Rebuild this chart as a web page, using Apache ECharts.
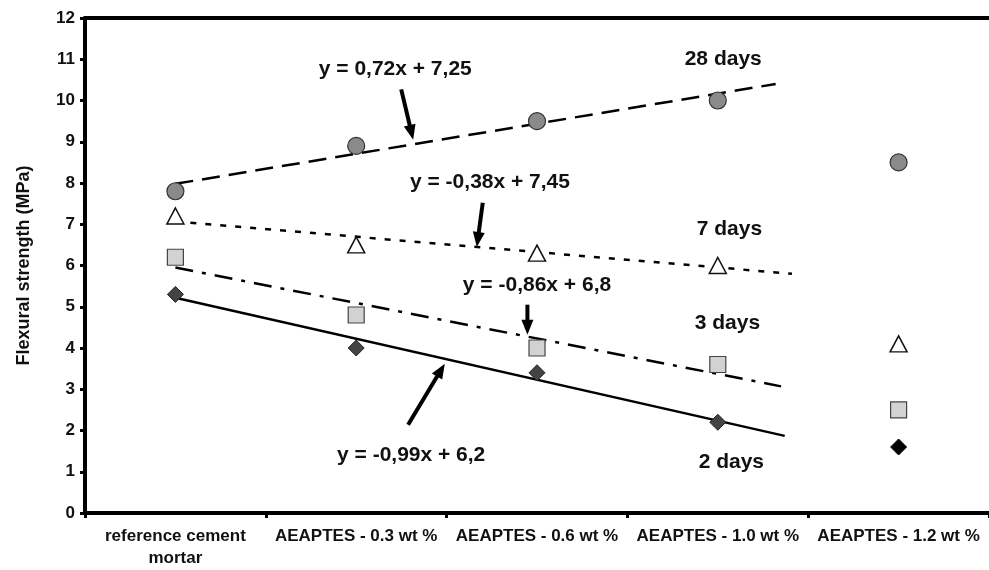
<!DOCTYPE html>
<html><head><meta charset="utf-8">
<script src="https://cdn.jsdelivr.net/npm/echarts@6/dist/echarts.min.js"></script>
<style>html,body{margin:0;padding:0;background:#fff}#c{width:989px;height:570px}</style>
</head><body><div id="c"></div>
<script>
const categories = ['reference cement\nmortar','AEAPTES - 0.3 wt %','AEAPTES - 0.6 wt %','AEAPTES - 1.0 wt %','AEAPTES - 1.2 wt %'];
const days28 = [7.8, 8.9, 9.5, 10.0, 8.5];
const days7 = [7.2, 6.5, 6.3, 6.0, 4.1];
const days3 = [6.2, 4.8, 4.0, 3.6, 2.5];
const days2 = [5.3, 4.0, 3.4, 2.2, 1.6];
// trend line endpoints [x (category index), y]
const trend28 = [[0, 7.98], [3.32, 10.40]];
const trend7 = [[0, 7.07], [3.41, 5.80]];
const trend3 = [[0, 5.95], [3.35, 3.07]];
const trend2 = [[0, 5.22], [3.37, 1.87]];
// annotation texts with their anchor in data coordinates
const annotations = [
  ['y = 0,72x + 7,25', 1.216, 10.75],
  ['28 days', 3.03, 11.0],
  ['y = -0,38x + 7,45', 1.74, 8.01],
  ['7 days', 3.064, 6.87],
  ['y = -0,86x + 6,8', 2.0, 5.53],
  ['3 days', 3.053, 4.61],
  ['y = -0,99x + 6,2', 1.304, 1.41],
  ['2 days', 3.075, 1.24]
];
// arrows: [x1, y1, x2 (tip), y2 (tip)]
const arrows = [
  [1.249, 10.27, 1.315, 9.05],
  [1.70, 7.52, 1.667, 6.45],
  [1.947, 5.05, 1.947, 4.32],
  [1.287, 2.14, 1.49, 3.62]
];

const FONT = '"Liberation Sans", Arial, sans-serif';
const chart = echarts.init(document.getElementById('c'), null, {renderer: 'canvas'});
const lineSeries = (data, type, z) => ({
  type: 'line', xAxisIndex: 1, data: data, symbol: 'none', silent: true, z: z,
  lineStyle: {color: '#000', width: 2.5, type: type}
});
const scatter = (data, symbol, size, color, borderColor, bw) => ({
  type: 'scatter', xAxisIndex: 0, data: data, symbol: symbol, symbolSize: size, z: 5,
  itemStyle: {color: color, borderColor: borderColor, borderWidth: bw, opacity: 1}
});
function renderArrow(params, api) {
  const p1 = api.coord([api.value(0), api.value(1)]);
  const p2 = api.coord([api.value(2), api.value(3)]);
  const dx = p2[0] - p1[0], dy = p2[1] - p1[1];
  const len = Math.sqrt(dx * dx + dy * dy);
  const ux = dx / len, uy = dy / len;
  const hl = 15, hw = 6;
  const bx = p2[0] - ux * hl, by = p2[1] - uy * hl;
  return {
    type: 'group', children: [
      {type: 'line', shape: {x1: p1[0], y1: p1[1], x2: bx + ux * 2, y2: by + uy * 2},
        style: {stroke: '#000', lineWidth: 4}},
      {type: 'polygon', shape: {points: [[p2[0], p2[1]], [bx - uy * hw, by + ux * hw], [bx + uy * hw, by - ux * hw]]},
        style: {fill: '#000'}}
    ]
  };
}
chart.setOption({
  animation: false,
  grid: {left: 85, right: -5, top: 18, bottom: 57},
  xAxis: [{
    type: 'category', data: categories, position: 'bottom', boundaryGap: true,
    axisLine: {lineStyle: {color: '#000', width: 4}},
    axisTick: {show: true, length: 5, lineStyle: {color: '#000', width: 3}},
    axisLabel: {interval: 0, color: '#111', fontFamily: FONT, fontWeight: 'bold', fontSize: 17, margin: 12, lineHeight: 22},
    splitLine: {show: false}
  }, {
    type: 'value', min: -0.5, max: 4.5, position: 'top',
    axisLine: {show: true, onZero: false, lineStyle: {color: '#000', width: 4}},
    axisTick: {show: false}, axisLabel: {show: false}, splitLine: {show: false}
  }],
  yAxis: {
    type: 'value', min: 0, max: 12, interval: 1,
    name: 'Flexural strength (MPa)', nameLocation: 'middle', nameGap: 52, nameRotate: 90,
    nameTextStyle: {color: '#111', fontFamily: FONT, fontWeight: 'bold', fontSize: 18},
    axisLine: {show: true, onZero: false, lineStyle: {color: '#000', width: 4}},
    axisTick: {show: true, length: 5, lineStyle: {color: '#000', width: 3}},
    axisLabel: {color: '#111', fontFamily: FONT, fontWeight: 'bold', fontSize: 17, margin: 10},
    splitLine: {show: false}
  },
  series: [
    lineSeries(trend28, [18, 9], 2),
    lineSeries(trend7, [6, 9], 2),
    lineSeries(trend3, [18, 9, 4, 9], 2),
    lineSeries(trend2, 'solid', 2),
    {
      type: 'custom', xAxisIndex: 1, silent: true, z: 4,
      renderItem: renderArrow, data: arrows
    },
    scatter(days28, 'circle', 17, '#8a8a8a', '#333', 1.2),
    scatter(days7, 'triangle', [17, 16], '#fff', '#111', 1.5),
    scatter(days3, 'rect', 16, '#d2d2d2', '#444', 1.2),
    scatter(days2.map((v, i) => i === days2.length - 1 ? {value: v, itemStyle: {color: '#000', borderColor: '#000'}} : v),
      'diamond', 16, '#444', '#222', 1),
    {
      type: 'scatter', xAxisIndex: 1, symbolSize: 0, silent: true, z: 6,
      itemStyle: {opacity: 1},
      data: annotations.map(a => ({name: a[0], value: [a[1], a[2]]})),
      label: {show: true, position: 'inside', formatter: '{b}', color: '#111', opacity: 1,
        fontFamily: FONT, fontWeight: 'bold', fontSize: 21}
    }
  ]
});
</script></body></html>
